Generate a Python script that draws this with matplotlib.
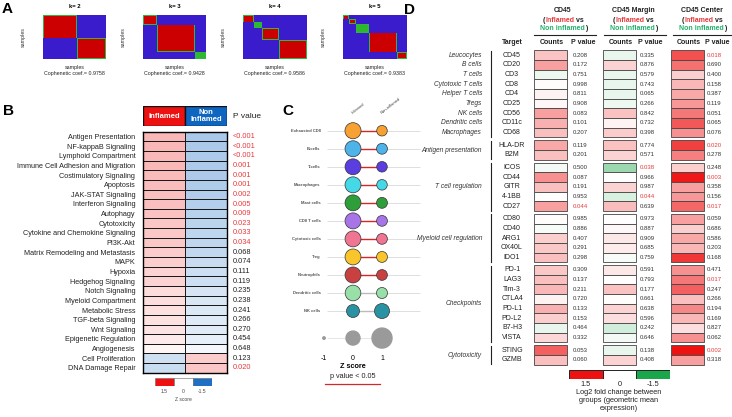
import numpy as np
import matplotlib
matplotlib.use('Agg')
import matplotlib.pyplot as plt
from matplotlib.colors import LinearSegmentedColormap
from matplotlib.lines import Line2D

W, H = 732, 417
RED = '#ee1c1c'
PRED = '#e8393b'
GREEN_TXT = '#23b26b'

# ---------- panel A: consensus matrices
k_values = [2, 3, 4, 5]
cluster_sizes = [[32, 28], [13, 37, 10], [10, 8, 16, 26], [6, 6, 12, 27, 9]]
cluster_conf = [[1, 1], [1, 1, 0.6], [1, 0.6, 1, 1], [1, 1, 0.6, 1, 1]]
coph_coef = ['0.9758', '0.9428', '0.9586', '0.9383']

# ---------- panel B: pathway z scores
pathways = ['Antigen Presentation', 'NF-kappaB Signaling', 'Lymphoid Compartment',
            'Immune Cell Adhesion and Migration', 'Costimulatory Signaling', 'Apoptosis',
            'JAK-STAT Signaling', 'Interferon Signaling', 'Autophagy', 'Cytotoxicity',
            'Cytokine and Chemokine Signaling', 'PI3K-Akt', 'Matrix Remodeling and Metastasis',
            'MAPK', 'Hypoxia', 'Hedgehog Signaling', 'Notch Signaling', 'Myeloid Compartment',
            'Metabolic Stress', 'TGF-beta Signaling', 'Wnt Signaling', 'Epigenetic Regulation',
            'Angiogenesis', 'Cell Proliferation', 'DNA Damage Repair']
inflamed_z = [0.45, 0.45, 0.44, 0.44, 0.43, 0.42, 0.41, 0.40, 0.38, 0.36, 0.35, 0.34, 0.32,
              0.30, 0.28, 0.27, 0.22, 0.20, 0.19, 0.18, 0.17, 0.13, 0.06, -0.32, -0.36]
non_inflamed_z = [-0.57, -0.56, -0.55, -0.55, -0.54, -0.53, -0.52, -0.50, -0.48, -0.45, -0.44,
                  -0.43, -0.40, -0.37, -0.35, -0.33, -0.27, -0.25, -0.24, -0.22, -0.21, -0.16,
                  -0.08, 0.32, 0.36]
pathway_p = ['<0.001', '<0.001', '<0.001', '0.001', '0.001', '0.001', '0.002', '0.005', '0.009',
             '0.023', '0.033', '0.034', '0.068', '0.074', '0.111', '0.119', '0.235', '0.238',
             '0.241', '0.266', '0.270', '0.454', '0.648', '0.123', '0.020']
zscore_ticks = [1.5, 0, -1.5]

# ---------- panel C: cell type dot plot
cell_types = ['Exhausted CD8', 'B-cells', 'T-cells', 'Macrophages', 'Mast cells', 'CD8 T cells',
              'Cytotoxic cells', 'Treg', 'Neutrophils', 'Dendritic cells', 'NK cells']
cell_colors = ['#f7a132', '#4db3e8', '#5b3ee0', '#45d8e6', '#2e9e3a', '#a875e8', '#f07592',
               '#f8c52a', '#c94040', '#98e0a8', '#2a93a3']
c_inflamed_z = [0.35, 0.33, 0.32, 0.33, 0.32, 0.33, 0.32, 0.32, 0.33, 0.28, -0.09]
c_non_inflamed_z = [-0.30, -0.27, -0.30, -0.30, -0.27, -0.28, -0.28, -0.27, -0.28, -0.26, 0.17]
c_significant = [True] * 9 + [False, False]
legend_z = [-1, 0, 1]

# ---------- panel D: NanoString table
d_columns = ['CD45', 'CD45 Margin', 'CD45 Center']
d_group_names = ['', 'Antigen presentation', 'T cell regulation', 'Myeloid cell regulation',
                 'Checkpoints', 'Cytotoxicity']
d_group_sizes = [9, 2, 5, 5, 8, 2]
d_cells = ['Leucocytes', 'B cells', 'T cells', 'Cytotoxic T cells', 'Helper T cells', 'Tregs',
           'NK cells', 'Dendritic cells', 'Macrophages']
d_targets = ['CD45', 'CD20', 'CD3', 'CD8', 'CD4', 'CD25', 'CD56', 'CD11c', 'CD68',
             'HLA-DR', 'B2M',
             'ICOS', 'CD44', 'GITR', '4-1BB', 'CD27',
             'CD80', 'CD40', 'ARG1', 'OX40L', 'IDO1',
             'PD-1', 'LAG3', 'Tim-3', 'CTLA4', 'PD-L1', 'PD-L2', 'B7-H3', 'VISTA',
             'STING', 'GZMB']
fc_cd45 = [0.37, 0.6, -0.12, 0.02, 0.08, 0.05, 0.6, 0.5, 0.4, 0.55, 0.4, -0.08, 0.7, 0.4,
           0.0, 0.6, 0.02, -0.05, 0.3, 0.35, 0.4, 0.35, 0.4, 0.45, 0.08, 0.5, 0.3, -0.15,
           0.25, 1.0, 0.4]
fc_margin = [-0.15, 0.28, -0.15, -0.15, -0.15, -0.12, 0.38, 0.08, 0.32, 0.38, 0.28, -0.65,
             0.0, 0.28, -0.25, 0.42, 0.0, 0.05, 0.15, 0.12, -0.05, 0.15, 0.0, 0.38, 0.02,
             0.28, 0.2, -0.3, -0.08, -0.15, 0.28]
fc_center = [1.1, 0.9, 0.3, 0.45, 0.55, 0.65, 0.85, 1.05, 0.7, 1.2, 0.8, 0.3, 1.45, 0.6,
             0.65, 0.95, 0.6, 0.3, 0.55, 0.45, 1.25, 0.7, 0.85, 1.0, 0.4, 0.75, 0.45, 0.2,
             0.7, 1.5, 0.6]
p_cd45 = ['0.208', '0.172', '0.751', '0.998', '0.811', '0.908', '0.083', '0.101', '0.207',
          '0.119', '0.201', '0.500', '0.087', '0.191', '0.953', '0.044', '0.985', '0.886',
          '0.407', '0.291', '0.298', '0.309', '0.137', '0.211', '0.720', '0.133', '0.153',
          '0.464', '0.332', '0.053', '0.060']
p_margin = ['0.335', '0.876', '0.579', '0.743', '0.065', '0.266', '0.842', '0.732', '0.398',
            '0.774', '0.571', '0.038', '0.966', '0.987', '0.044', '0.639', '0.973', '0.887',
            '0.909', '0.685', '0.759', '0.591', '0.793', '0.177', '0.661', '0.638', '0.596',
            '0.242', '0.646', '0.138', '0.408']
p_center = ['0.018', '0.690', '0.400', '0.158', '0.387', '0.119', '0.051', '0.065', '0.076',
            '0.020', '0.278', '0.248', '0.003', '0.358', '0.156', '0.017', '0.059', '0.686',
            '0.586', '0.203', '0.168', '0.471', '0.017', '0.247', '0.266', '0.194', '0.169',
            '0.827', '0.062', '0.002', '0.318']
fc_ticks = [1.5, 0, -1.5]

plt.rcParams['font.family'] = ['Liberation Sans', 'DejaVu Sans']
fig = plt.figure(figsize=(7.32, 4.17), dpi=100)


def rect(x0, y0, x1, y1):
    return [x0 / W, 1 - y1 / H, (x1 - x0) / W, (y1 - y0) / H]


def ftext(x, y, s, **kw):
    return fig.text(x / W, 1 - y / H, s, **kw)


def is_sig(p):
    return p.startswith('<') or float(p) < 0.05


# ---------------- A
cons_cmap = LinearSegmentedColormap.from_list(
    'cons', ['#3a1ccc', '#2f6fe8', '#33c0e0', '#2eb82e', '#d4c400', '#cc0000'])
ftext(2, 9, 'A', fontsize=11, fontweight='bold', va='center')
for i, k in enumerate(k_values):
    sizes = cluster_sizes[i]
    labels = np.repeat(np.arange(k), sizes)
    conf = np.array(cluster_conf[i])[labels]
    same = labels[:, None] == labels[None, :]
    M = np.where(same, np.minimum(conf[:, None], conf[None, :]), 0.0)
    ends = np.cumsum(sizes)
    starts = ends - np.array(sizes)
    for s, e in zip(starts, ends):
        for b in (s, e - 1):
            M[b, s:e] = 0.58
            M[s:e, b] = 0.58
    x0 = 43 + 100 * i
    ax = fig.add_axes(rect(x0, 15, x0 + 63, 59))
    ax.imshow(M, cmap=cons_cmap, vmin=0, vmax=1, aspect='auto', interpolation='nearest')
    ax.set_xticks([])
    ax.set_yticks([])
    for sp in ax.spines.values():
        sp.set_visible(False)
    ax.set_title(f'k= {k}', fontsize=4.2, fontweight='bold', pad=5)
    ax.set_ylabel('samples', fontsize=3.8, color='#333', labelpad=12)
    ax.set_xlabel(f'samples\nCophenetic coef.= {coph_coef[i]}', fontsize=3.8,
                  color='#222', labelpad=4, linespacing=1.3)

# ---------------- B
zcmap = LinearSegmentedColormap.from_list('z', ['#1f6fc5', '#ffffff', '#ee1111'])
ftext(3, 111, 'B', fontsize=11, fontweight='bold', va='center')

axh = fig.add_axes(rect(143, 106, 227, 126))
axh.bar([0.5, 1.5], [1, 1], width=1, color=['#ee1111', '#0f66c0'], edgecolor='#111', lw=1)
axh.text(0.5, 0.5, 'Inflamed', color='white', fontweight='bold', fontsize=5.5,
         ha='center', va='center')
axh.text(1.5, 0.5, 'Non\nInflamed', color='white', fontweight='bold', fontsize=5.5,
         ha='center', va='center', linespacing=1.0)
axh.set_xlim(0, 2)
axh.set_ylim(0, 1)
axh.axis('off')

axb = fig.add_axes(rect(143, 131.7, 227, 372.7))
Z = np.column_stack([inflamed_z, non_inflamed_z])
axb.pcolormesh(Z, cmap=zcmap, vmin=-1.5, vmax=1.5, edgecolors='#1a1a1a', linewidth=0.5)
axb.set_xlim(0, 2)
axb.set_ylim(len(pathways), 0)
axb.set_xticks([])
axb.set_yticks(np.arange(len(pathways)) + 0.5)
axb.set_yticklabels(pathways, fontsize=5.2, color='#222')
axb.tick_params(length=0, pad=5.5)
for sp in axb.spines.values():
    sp.set_linewidth(1)
for i, p in enumerate(pathway_p):
    axb.text(2.14, i + 0.5, p, fontsize=5.3, va='center', ha='left',
             color=PRED if is_sig(p) else '#222')
axb.text(2.14, -1.6, 'P value', fontsize=6, va='center', ha='left', color='#222')

axbc = fig.add_axes(rect(155, 378, 212, 386))
axbc.bar(range(3), [1, 1, 1], width=1, color=[zcmap((v + 1.5) / 3) for v in zscore_ticks],
         edgecolor='#666', lw=0.4)
for i, v in enumerate(zscore_ticks):
    axbc.text(i, -0.7, f'{v:g}', fontsize=3.6, ha='center', va='center', color='#444')
axbc.text(1, -1.7, 'Z score', fontsize=3.6, ha='center', va='center', color='#444')
axbc.set_xlim(-0.5, 2.5)
axbc.set_ylim(0, 1)
axbc.axis('off')

# ---------------- C
ftext(282, 111, 'C', fontsize=11, fontweight='bold', va='center')


def dot_area(z):
    d = np.interp(z, [-1, 0, 1], [2.5, 14, 20])
    return (d * 0.72) ** 2


axc = fig.add_axes(rect(353 - 1.25 * 29, 116.3, 353 + 2.4 * 29, 352.5))
rows = np.arange(len(cell_types))
axc.hlines(rows, -0.9, 2.3, color='#d9d9d9', lw=0.6, zorder=0)
for i in rows:
    axc.plot([0, 1], [i, i], color='#d62728' if c_significant[i] else '#bbbbbb',
             lw=1, zorder=1)
axc.scatter(np.zeros(len(rows)), rows, s=dot_area(np.array(c_inflamed_z)), c=cell_colors,
            edgecolors='#333', linewidths=0.5, zorder=2)
axc.scatter(np.ones(len(rows)), rows, s=dot_area(np.array(c_non_inflamed_z)), c=cell_colors,
            edgecolors='#333', linewidths=0.5, zorder=2)
for i, name in enumerate(cell_types):
    axc.text(-1.12, i, name, ha='right', va='center', fontsize=3, fontweight='bold',
             color='#555')
axc.hlines(11.5, -0.9, 1.0, color='#e0e0e0', lw=0.6, zorder=0)
axc.scatter(legend_z, [11.5] * 3, s=dot_area(np.array(legend_z)), c='#9a9a9a', zorder=2)
axc.text(0, -0.9, 'Inflamed', rotation=38, fontsize=3, ha='left', va='bottom',
         rotation_mode='anchor', color='#444')
axc.text(1, -0.9, 'Non-inflamed', rotation=38, fontsize=3, ha='left', va='bottom',
         rotation_mode='anchor', color='#444')
axc.set_xlim(-1.25, 2.4)
axc.set_ylim(12.3, -0.8)
axc.set_xticks(legend_z)
axc.set_xticklabels([str(v) for v in legend_z], fontsize=5)
axc.tick_params(length=0, pad=1.5)
axc.set_yticks([])
axc.set_xlabel('Z score', fontsize=5.2, fontweight='bold', labelpad=1)
for sp in axc.spines.values():
    sp.set_visible(False)
axc.xaxis.label.set_x((0 + 1.25) / 3.65)
ftext(353, 376, 'p value < 0.05', fontsize=5.2, ha='center', va='center', color='#222')
fig.add_artist(Line2D([325 / W, 380 / W], [1 - 384 / H] * 2, color='#d62728', lw=0.9))

# ---------------- D
dcmap = LinearSegmentedColormap.from_list('fc', ['#1aa64a', '#ffffff', '#ee1111'])
ftext(404, 10, 'D', fontsize=11, fontweight='bold', va='center')


def py(px):
    return (px - 55.3) / 9.67


axd = fig.add_axes(rect(400, 0, 732, 417))
axd.set_xlim(400, 732)
axd.set_ylim(py(417), py(0))
axd.axis('off')

group_idx = np.repeat(np.arange(len(d_group_sizes)), d_group_sizes)
ypos = np.arange(len(d_targets)) + 0.3 * group_idx

cell_left = [534, 603, 671]
p_left = [573, 640, 707]
col_center = [563, 633, 702]
for j, (vals, pv) in enumerate(zip([fc_cd45, fc_margin, fc_center],
                                   [p_cd45, p_margin, p_center])):
    colors = [dcmap((v + 1.5) / 3) for v in vals]
    axd.barh(ypos, 33, left=cell_left[j], height=1, color=colors, edgecolor='#444', lw=0.6)
    for y, p in zip(ypos, pv):
        axd.text(p_left[j], y, p, fontsize=4.3, va='center', ha='left',
                 color=PRED if is_sig(p) else '#333')
    cx = col_center[j]
    axd.text(cx, py(11), d_columns[j], fontsize=5, fontweight='bold', ha='center',
             va='center', color='#222')
    parts1 = [('(', '#222'), ('Inflamed', PRED), (' vs', '#222')]
    parts2 = [('Non inflamed', GREEN_TXT), (')', '#222')]
    for parts, yy, dx in [(parts1, 20, -20), (parts2, 29, -23)]:
        t = axd.text(cx + dx, py(yy), parts[0][0], color=parts[0][1], fontsize=5,
                     fontweight='bold', ha='left', va='center')
        for s, c in parts[1:]:
            t = axd.annotate(s, xy=(1, 0), xycoords=t, color=c, fontsize=5,
                             fontweight='bold', ha='left', va='bottom')
    axd.plot([cx - 29, cx + 33], [py(35), py(35)], color='#222', lw=0.8)
    axd.text(cell_left[j] + 18, py(43), 'Counts', fontsize=5, fontweight='bold',
             ha='center', va='center', color='#222')
    axd.text(p_left[j] + 10, py(43), 'P value', fontsize=5, fontweight='bold',
             ha='center', va='center', color='#222')
axd.text(512, py(43), 'Target', fontsize=5, fontweight='bold', ha='center', va='center',
         color='#222')

for y, t in zip(ypos, d_targets):
    axd.text(512, y, t, fontsize=5, ha='center', va='center', color='#222')
for y, c in zip(ypos[:len(d_cells)], d_cells):
    axd.text(482, y, c, fontsize=4.8, style='italic', ha='right', va='center', color='#333')
    axd.plot([491, 491], [y - 0.45, y + 0.45], color='#222', lw=0.8)
for g in range(1, len(d_group_sizes)):
    ys = ypos[group_idx == g]
    axd.text(482, ys.mean(), d_group_names[g], fontsize=4.8, style='italic', ha='right',
             va='center', color='#333')
    axd.plot([491, 491], [ys.min() - 0.45, ys.max() + 0.45], color='#222', lw=0.8)

axdc = fig.add_axes(rect(569, 370, 670, 379))
axdc.bar(range(3), [1, 1, 1], width=1, color=[dcmap((v + 1.5) / 3) for v in fc_ticks],
         edgecolor='#222', lw=0.7)
for i, v in enumerate(fc_ticks):
    axdc.text(i, -0.6, f'{v:g}', fontsize=5.3, ha='center', va='center', color='#222')
axdc.set_xlim(-0.5, 2.5)
axdc.set_ylim(0, 1)
axdc.axis('off')
ftext(619, 389, 'Log2 fold change between\ngroups (geometric mean\nexpression)',
      fontsize=5.3, ha='center', va='top', color='#222', linespacing=1.25)

fig.savefig('out.png', dpi=100)
